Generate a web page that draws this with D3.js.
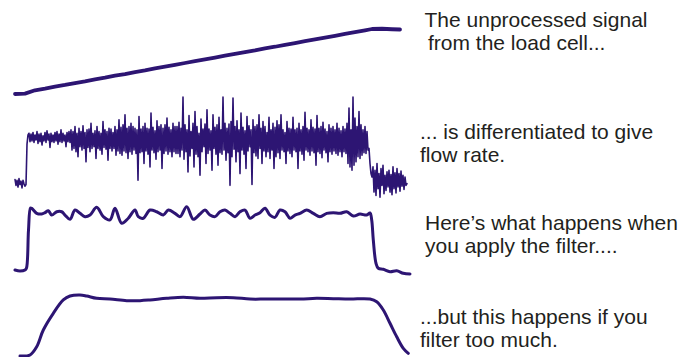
<!DOCTYPE html>
<html>
<head>
<meta charset="utf-8">
<script src="https://cdn.jsdelivr.net/npm/d3@7"></script>
<style>
  html, body { margin: 0; padding: 0; background: #fff; }
  svg { display: block; }
  text { font-family: "Liberation Sans", Arial, sans-serif; fill: #231f20; }
</style>
</head>
<body>
<svg id="chart" width="696" height="357"></svg>
<script>
// Load cell weight (% of final), sampled every 1 s
const loadTime = [0,1,2,3,4,5,6,7,8,9,10,11,12,13,14,15,16,17,18,19,20,21,22,23,24,25,26,27,28,29,30,31,32,33,34,35,35.7,36.7,37.7,38.5];
const loadValue = [0,0.6,5.7,8.3,11.3,13.9,16.9,19.5,22.5,25.1,28.2,30.7,33.8,36.3,39.4,42.0,44.9,47.7,50.5,53.2,56.1,58.9,61.6,64.5,67.1,70.2,72.7,75.7,78.3,81.2,84.0,86.8,89.5,92.5,95.1,98.0,100,100.4,99.6,99.2];

// Raw differentiated flow rate, one sample every 0.1 s
const rawInterval = 0.1;
const rawFlow = [
  // before the pour
  3,-4,2,-6,4,-3,1,-7,2,-2,-5,-3,
  45,56,
  // start of the pour
  58,48,57,49,59,47,56,50,60,46,57,48,58,44,55,49,59,47,61,50,57,41,58,48,56,47,59,49,60,45,57,48,62,47,58,49,56,42,59,48,60,47,
  62,38,60,40,66,36,58,30,64,42,60,38,67,40,59,24,62,41,63,36,70,40,58,42,61,28,66,40,60,38,58,33,72,41,62,39,60,26,64,40,63,37,59,40,66,32,62,37,
  74,34,65,32,68,37,80,35,64,28,66,36,70,33,66,38,64,34,62,2,78,35,63,36,66,22,70,37,64,33,63,18,82,38,65,35,61,27,73,36,66,38,68,16,64,34,68,37,76,33,65,36,62,30,70,36,66,34,
  // middle of the pour
  66,34,71,30,64,38,101,27,68,36,62,12,79,31,60,40,70,18,84,33,66,30,58,8,75,36,63,42,69,22,86,34,63,38,61,14,80,40,65,33,68,20,77,35,62,33,101,38,70,26,
  64,35,69,-4,72,30,100,39,66,24,73,36,62,10,82,38,65,33,61,16,78,37,67,42,62,-3,74,35,66,31,68,28,80,40,64,22,72,37,66,30,59,36,77,28,62,38,70,16,65,30,73,35,
  68,28,80,38,62,36,59,22,72,37,64,34,63,30,77,38,62,36,64,16,70,37,62,33,66,26,83,38,64,36,62,32,74,37,65,35,63,20,79,36,64,34,66,29,71,38,63,35,60,24,68,36,64,33,66,37,62,34,70,32,64,36,61,30,66,36,63,34,
  // end of the pour
  70,22,88,18,62,14,101,20,76,24,66,30,84,28,68,32,62,35,66,34,60,38,
  40,22,10,6,
  18,-12,14,-16,22,-8,10,-18,16,-4,20,-14,8,-10,12,-6,14,-12,9,-15,18,-8,11,-13,16,-6,10,-11,13,-5,8,-9,6,-4,-2
];

// Flow rate after the filter
const filtTime = [0,0.5,1.0,1.15,1.35,1.55,1.67,2.17,2.67,3.0,3.33,3.67,4.17,4.67,5.0,5.5,6.0,6.5,7.0,7.5,8.17,8.83,9.5,10.0,10.67,11.33,12.0,12.33,12.83,13.5,14.17,14.83,15.33,16.0,16.5,17.17,17.83,18.5,19.0,19.5,20.0,20.5,21.0,21.5,22.0,22.5,23.0,23.5,24.0,24.5,25.0,25.5,26.0,26.5,27.0,27.5,28.0,28.5,29.17,29.83,30.5,31.17,31.83,32.5,33.17,33.83,34.5,35.17,35.5,35.67,35.83,36.1,36.33,36.83,37.5,38.17,38.83,39.5];
const filtFlow = [0,-0.9,0,1.8,35,54.4,54.1,49.7,49.1,50.3,52.0,48.2,51.1,51.1,48.2,44.5,52.6,49.7,46.8,48.2,55.0,46.8,43.9,54.1,41.0,45.4,52.6,46.8,45.4,52.6,51.1,48.2,52.6,49.7,46.8,55.5,44.5,49.1,52.6,48.2,46.8,51.1,52.6,49.7,46.8,51.1,52.6,45.4,48.2,50.3,54.1,48.2,46.2,52.6,51.1,45.4,48.2,49.7,52.6,49.7,46.8,49.7,50.3,49.7,51.1,47.4,49.1,48.2,50.0,43.9,26.3,5.9,1.5,0.6,-1.5,-0.6,-2.9,-3.5];

// Flow rate with too much filtering
const overTime = [0.5,1.5,2.17,2.83,3.83,4.83,5.5,6.5,7.17,8.17,9.5,11.17,12.5,13.5,15.17,16.83,18.5,20.17,21.83,23.5,25.17,28.5,30.17,31.83,33.5,35.5,36.17,36.83,37.5,38.17,38.83,39.33];
const overFlow = [0,0.9,8.0,22.4,36.8,48.3,51.7,52.6,51.7,49.7,49.1,47.7,47.7,48.3,49.7,50.6,49.7,50.3,50.3,49.1,49.1,49.1,49.7,49.4,49.1,49.1,46.8,39.7,28.2,16.6,6.6,2.3];

const captions = [
  ["The unprocessed signal", "from the load cell..."],
  ["... is differentiated to give", "flow rate."],
  ["Here\u2019s what happens when", "you apply the filter...."],
  ["...but this happens if you", "filter too much."]
];

const ink = "#2d1573";
const svg = d3.select("#chart");

const x = d3.scaleLinear().domain([0, 39.2]).range([15, 407]);

// one vertical scale per strip
const yLoad = d3.scaleLinear().domain([0, 100]).range([94, 29]);
const yRaw = d3.scaleLinear().domain([0, 50]).range([182, 140]);
const yFilt = d3.scaleLinear().domain([0, 50]).range([270, 213]);
const yOver = d3.scaleLinear().domain([0, 50]).range([356, 298]);

function trace(times, values, y, width, curve) {
  const pts = times.map((t, i) => [t, values[i]]);
  svg.append("path")
    .datum(pts)
    .attr("fill", "none")
    .attr("stroke", ink)
    .attr("stroke-width", width)
    .attr("stroke-linejoin", "round")
    .attr("stroke-linecap", "round")
    .attr("d", d3.line().x(d => x(d[0])).y(d => y(d[1])).curve(curve));
}

trace(loadTime, loadValue, yLoad, 3.8, d3.curveLinear);
trace(rawFlow.map((_, i) => i * rawInterval), rawFlow, yRaw, 1.6, d3.curveLinear);
trace(filtTime, filtFlow, yFilt, 3, d3.curveCatmullRom);
trace(overTime, overFlow, yOver, 3, d3.curveCatmullRom);

// captions to the right of each strip: [x of first line, x of second line, first baseline]
const captionPos = [[424.5, 428, 26.5], [420, 420, 138.5], [425, 425, 230], [420, 420, 323.5]];
captions.forEach((lines, k) => {
  const t = svg.append("text")
    .attr("y", captionPos[k][2])
    .attr("font-size", 21);
  lines.forEach((s, j) => {
    t.append("tspan")
      .attr("x", captionPos[k][j])
      .attr("dy", j === 0 ? 0 : 23.3)
      .text(s);
  });
});
</script>
</body>
</html>
